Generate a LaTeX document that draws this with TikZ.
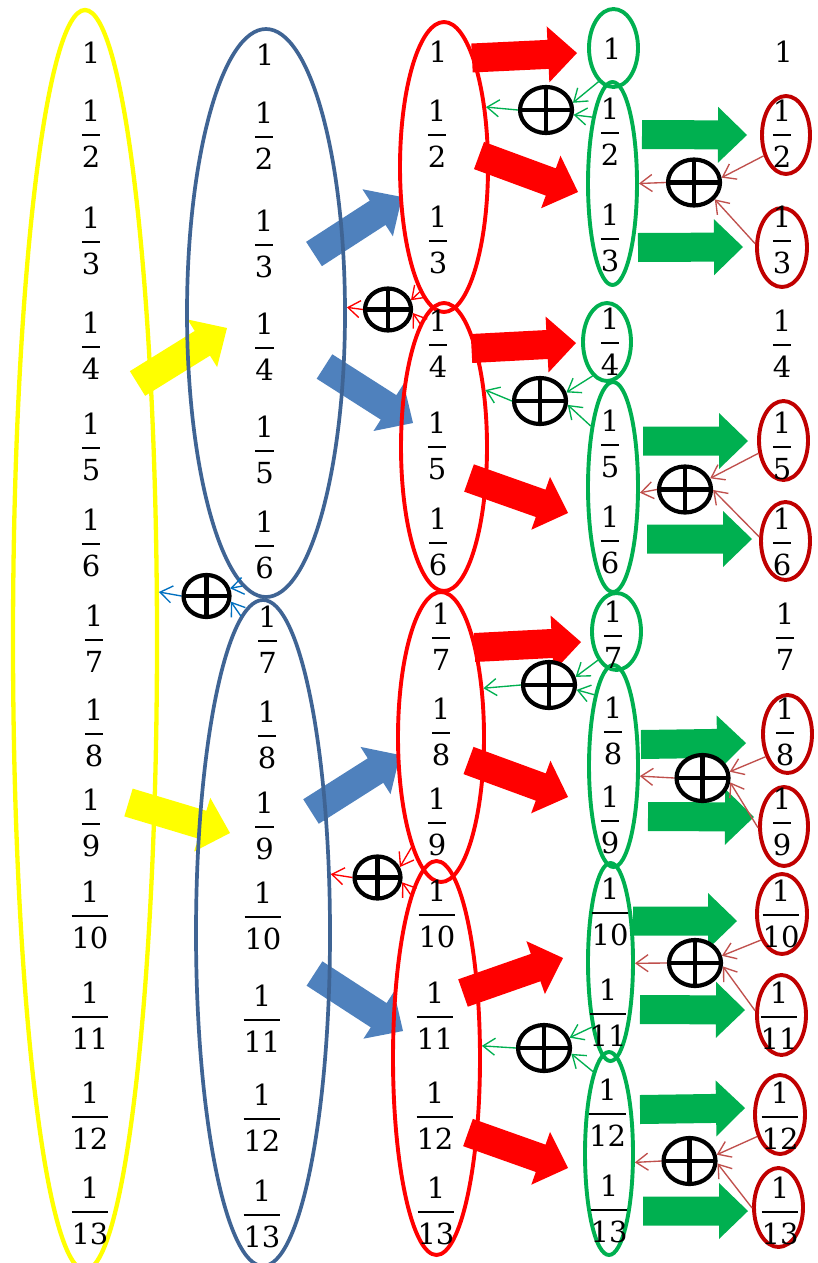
\documentclass[tikz,border=0pt]{standalone}
\usepackage{fontspec}
\setmainfont{DejaVu Serif}
\usetikzlibrary{shapes.geometric,arrows.meta,calc}
\definecolor{yel}{HTML}{FFFF00}
\definecolor{dblue}{HTML}{3F6494}
\definecolor{lblue}{HTML}{4F81BD}
\definecolor{tblue}{HTML}{0070C0}
\definecolor{rd}{HTML}{FF0000}
\definecolor{grn}{HTML}{00B050}
\definecolor{dred}{HTML}{C00000}
\definecolor{tred}{HTML}{C0504D}
\newcommand\fr[1]{\setbox0\hbox{#1}%
  \vbox{\hbox to\wd0{\hss 1\hss}\kern12.4pt\hrule height 2pt width\wd0\kern10.4pt\box0}}
\newcommand\blockarrow[3]{%
  \coordinate (bah) at ($(#3)!29pt!(#2)$);
  \fill[#1] ($(#2)!14.5pt!90:(#3)$) -- ($(bah)!14.5pt!90:(#3)$) -- ($(bah)!28pt!90:(#3)$) -- (#3)
     -- ($(bah)!28pt!-90:(#3)$) -- ($(bah)!14.5pt!-90:(#3)$) -- ($(#2)!14.5pt!-90:(#3)$) -- cycle;}
\tikzset{
  ell/.style={draw, ellipse, line width=3.9pt, inner sep=0pt},
  frac/.style={anchor=base, inner sep=0pt, yshift=-32.5pt, font=\fontsize{29}{35}\selectfont},
  one/.style={anchor=base, inner sep=0pt, yshift=-10.5pt, font=\fontsize{29}{35}\selectfont},
  oplus/.style={draw=black, ellipse, line width=4.2pt, inner sep=0pt, fill=white,
    path picture={\draw[line width=4.2pt] (path picture bounding box.north) -- (path picture bounding box.south)
      (path picture bounding box.west) -- (path picture bounding box.east);}},
  obig/.style={oplus, minimum width=52pt, minimum height=46pt},
  osmall/.style={oplus, minimum width=46pt, minimum height=42pt},
  thin/.style={line width=1.35pt, -{Straight Barb[length=12pt,width=17pt]}},
  tg/.style={thin, draw=grn},
  tr/.style={thin, draw=tred},
  trd/.style={thin, draw=rd},
  tb/.style={thin, draw=tblue},
}
\begin{document}
\begin{tikzpicture}[x=1pt,y=-1pt]
\path[use as bounding box] (0,0) rectangle (817,1263);
\clip (0,0) rectangle (817,1263);
\fill[white] (0,0) rectangle (817,1263);

% block arrow end points
\coordinate (y1t) at (137.5,383.5); \coordinate (y1h) at (227,328);
\coordinate (y2t) at (128.5,802.5); \coordinate (y2h) at (230,833);
\coordinate (b1t) at (314,254);   \coordinate (b1h) at (402,197);
\coordinate (b2t) at (324.5,366.5); \coordinate (b2h) at (413,423);
\coordinate (b3t) at (311,811.5); \coordinate (b3h) at (400,755);
\coordinate (b4t) at (314.5,973.5); \coordinate (b4h) at (403,1031);
\coordinate (r1t) at (472,58);    \coordinate (r1h) at (577,53);
\coordinate (r2t) at (479,155.5); \coordinate (r2h) at (578,192);
\coordinate (r3t) at (471.5,348.5); \coordinate (r3h) at (576,343);
\coordinate (r4t) at (469,478);   \coordinate (r4h) at (568,513);
\coordinate (r5t) at (474.5,647.5); \coordinate (r5h) at (581,642);
\coordinate (r6t) at (468.5,760.5); \coordinate (r6h) at (568,797);
\coordinate (r7t) at (463,993);   \coordinate (r7h) at (563,958);
\coordinate (r8t) at (468,1132.5); \coordinate (r8h) at (568,1168);
\coordinate (g1t) at (642,134.5); \coordinate (g1h) at (747,135);
\coordinate (g2t) at (638,247.5); \coordinate (g2h) at (743,247);
\coordinate (g3t) at (643,441);   \coordinate (g3h) at (748,441);
\coordinate (g4t) at (647,539);   \coordinate (g4h) at (752,539);
\coordinate (g5t) at (641,744.5); \coordinate (g5h) at (746,743);
\coordinate (g6t) at (648,816.5); \coordinate (g6h) at (754,817);
\coordinate (g7t) at (633,921);   \coordinate (g7h) at (737,921);
\coordinate (g8t) at (640,1009.5); \coordinate (g8h) at (745,1010);
\coordinate (g9t) at (640,1109.5); \coordinate (g9h) at (745,1108);
\coordinate (g10t) at (643,1211); \coordinate (g10h) at (748,1211);

\blockarrow{yel}{y1t}{y1h}
\blockarrow{yel}{y2t}{y2h}
\blockarrow{lblue}{b1t}{b1h}
\blockarrow{lblue}{b2t}{b2h}
\blockarrow{lblue}{b3t}{b3h}
\blockarrow{lblue}{b4t}{b4h}
\blockarrow{rd}{r1t}{r1h}
\blockarrow{rd}{r2t}{r2h}
\blockarrow{rd}{r3t}{r3h}
\blockarrow{rd}{r4t}{r4h}
\blockarrow{rd}{r5t}{r5h}
\blockarrow{rd}{r6t}{r6h}
\blockarrow{rd}{r7t}{r7h}
\blockarrow{rd}{r8t}{r8h}
\blockarrow{grn}{g1t}{g1h}
\blockarrow{grn}{g2t}{g2h}
\blockarrow{grn}{g3t}{g3h}
\blockarrow{grn}{g4t}{g4h}
\blockarrow{grn}{g5t}{g5h}
\blockarrow{grn}{g6t}{g6h}
\blockarrow{grn}{g7t}{g7h}
\blockarrow{grn}{g8t}{g8h}
\blockarrow{grn}{g9t}{g9h}
\blockarrow{grn}{g10t}{g10h}

% ellipses
\node[ell, draw=yel, line width=4.3pt, minimum width=144pt, minimum height=1260pt] (Y) at (85,640) {};
\node[ell, draw=dblue, line width=3.7pt, minimum width=158pt, minimum height=568pt] (B1) at (266,313) {};
\node[ell, draw=dblue, line width=3.7pt, minimum width=134pt, minimum height=666pt] (B2) at (263,933) {};
\node[ell, draw=rd, minimum width=88pt, minimum height=290pt] (R1) at (444,167) {};
\node[ell, draw=rd, minimum width=86pt, minimum height=288pt] (R2) at (444,447) {};
\node[ell, draw=rd, minimum width=86pt, minimum height=290pt] (R3) at (441,737) {};
\node[ell, draw=rd, minimum width=87pt, minimum height=394pt] (R4) at (436.5,1058) {};
\node[ell, draw=grn, minimum width=49pt, minimum height=78pt] (G1) at (613.5,48) {};
\node[ell, draw=grn, minimum width=49pt, minimum height=203pt] (G2) at (612.5,183.5) {};
\node[ell, draw=grn, minimum width=48pt, minimum height=78pt] (G3) at (607,342) {};
\node[ell, draw=grn, minimum width=50pt, minimum height=210pt] (G4) at (613,487) {};
\node[ell, draw=grn, minimum width=49pt, minimum height=77pt] (G5) at (616.5,631.5) {};
\node[ell, draw=grn, minimum width=49pt, minimum height=202pt] (G6) at (613.5,766) {};
\node[ell, draw=grn, minimum width=45pt, minimum height=198pt] (G7) at (610.5,962) {};
\node[ell, draw=grn, minimum width=48pt, minimum height=203pt] (G8) at (609,1153.5) {};
\node[ell, draw=dred, minimum width=48pt, minimum height=78pt] (D2) at (786,135) {};
\node[ell, draw=dred, minimum width=50pt, minimum height=79pt] (D3) at (782,247.5) {};
\node[ell, draw=dred, minimum width=49pt, minimum height=79pt] (D5) at (783.5,440.5) {};
\node[ell, draw=dred, minimum width=49pt, minimum height=78pt] (D6) at (785.5,541) {};
\node[ell, draw=dred, minimum width=49pt, minimum height=78pt] (D8) at (787.5,734) {};
\node[ell, draw=dred, minimum width=48pt, minimum height=79pt] (D9) at (784,826.5) {};
\node[ell, draw=dred, minimum width=50pt, minimum height=80pt] (D10) at (782,914) {};
\node[ell, draw=dred, minimum width=49pt, minimum height=80pt] (D11) at (781.5,1015) {};
\node[ell, draw=dred, minimum width=50pt, minimum height=79pt] (D12) at (780,1114.5) {};
\node[ell, draw=dred, minimum width=49pt, minimum height=79pt] (D13) at (778.5,1207.5) {};

% column texts
\node[one] (a1) at (91,53) {1};
\foreach \x/\y/\d in {91/135/2, 91/242/3, 91/347/4, 91/448/5, 91/544/6, 94/640/7, 94/734/8, 91/824/9,
  90/916/10, 90/1017/11, 90/1117/12, 90/1212/13}
  \node[frac] (a\d) at (\x,\y) {\fr{\d}};
\node[one] (b1) at (265,55) {1};
\foreach \x/\y/\d in {264/137/2, 264/245/3, 264.5/348/4, 264.5/451/5, 264.5/546/6, 267.5/641/7, 267/736/8,
  264.5/827/9, 263/917/10, 262/1020/11, 262/1119/12, 262/1215/13}
  \node[frac] (b\d) at (\x,\y) {\fr{\d}};
\node[one] (c1) at (438,52) {1};
\foreach \x/\y/\d in {437/135/2, 438/241/3, 438/345/4, 437/447/5, 438/543/6, 441/638/7, 441/733/8,
  437/823/9, 437/915/10, 435/1017/11, 435/1117/12, 436/1212/13}
  \node[frac] (c\d) at (\x,\y) {\fr{\d}};
\node[one] (d1) at (612,49) {1};
\foreach \x/\y/\d in {610/133/2, 610/239/3, 610/343/4, 610/445/5, 610/541/6, 613/636/7, 613/732/8,
  610/821/9, 610/913/10, 608/1014/11, 607.5/1114/12, 609/1210/13}
  \node[frac] (d\d) at (\x,\y) {\fr{\d}};
\node[one] (e1) at (783.5,52) {1};
\foreach \x/\y/\d in {782/135/2, 782/241/3, 782/345/4, 782/447/5, 782/543/6, 785/638/7, 785/733/8,
  782/823/9, 781/915/10, 779/1017/11, 780/1117/12, 780/1212/13}
  \node[frac] (e\d) at (\x,\y) {\fr{\d}};

% oplus nodes
\node[obig] (o1) at (546,110) {};
\node[obig] (o2) at (694,182.5) {};
\node[osmall] (o3) at (388,309.5) {};
\node[obig] (o4) at (540,401) {};
\node[obig] (o5) at (685,489.5) {};
\node[osmall] (o6) at (206.5,596) {};
\node[obig] (o7) at (549,685) {};
\node[obig] (o8) at (702.5,778) {};
\node[osmall] (o9) at (377.5,877.5) {};
\node[obig] (o10) at (544,1048) {};
\node[obig] (o11) at (695,963) {};
\node[obig] (o12) at (689.5,1161) {};

% thin connectors
\draw[tg] (G1.246) -- (o1.15);
\draw[tg] (G2.107) -- (o1.-10);
\draw[tg] (o1.west) -- (R1.55);
\draw[tg] (G3.247) -- (o4.18);
\draw[tg] (G4.110) -- (o4.-8);
\draw[tg] (o4.west) -- (R2.54);
\draw[tg] (G5.237) -- (o7.17);
\draw[tg] (G6.105) -- (o7.-10);
\draw[tg] (o7.west) -- (R3.49);
\draw[tg] (G7.254) -- (o10.22);
\draw[tg] (G8.101) -- (o10.-12);
\draw[tg] (o10.west) -- (R4.15);

\draw[tr] (D2.223) -- (o2.10);
\draw[tr] (D3.172) -- (o2.-39);
\draw[tr] (o2.west) -- (G2.0);
\draw[tr] (D5.207) -- (o5.24);
\draw[tr] (D6.171) -- (o5.-1);
\draw[tr] (o5.west) -- (G4.-12);
\draw[tr] (D8.226) -- (o8.13);
\draw[tr] (D9.183) -- (o8.-9);
\draw[tr] (o8.west) -- (G6.-21);
\draw[tr] (D10.231) -- (o11.15);
\draw[tr] (D11.171) -- (o11.-7);
\draw[tr] (o11.west) -- (G7.-3);
\draw[tr] (D12.224) -- (o12.13);
\draw[tr] (D13.181) -- (o12.-5);
\draw[tr] (o12.west) -- (G8.-19);

\draw[trd] (R1.259) -- (o3.22);
\draw[trd] (R2.101) -- (o3.-8);
\draw[trd] (o3.west) -- (B1.4);
\draw[trd] (R3.255) -- (o9.25);
\draw[trd] (R4.99) -- (o9.-11);
\draw[trd] (o9.west) -- (B2.41);

\draw[tb] (B1.265) -- (o6.18);
\draw[tb] (B2.94) -- (o6.-13);
\draw[tb] (o6.west) -- (Y.33);
\end{tikzpicture}
\end{document}
